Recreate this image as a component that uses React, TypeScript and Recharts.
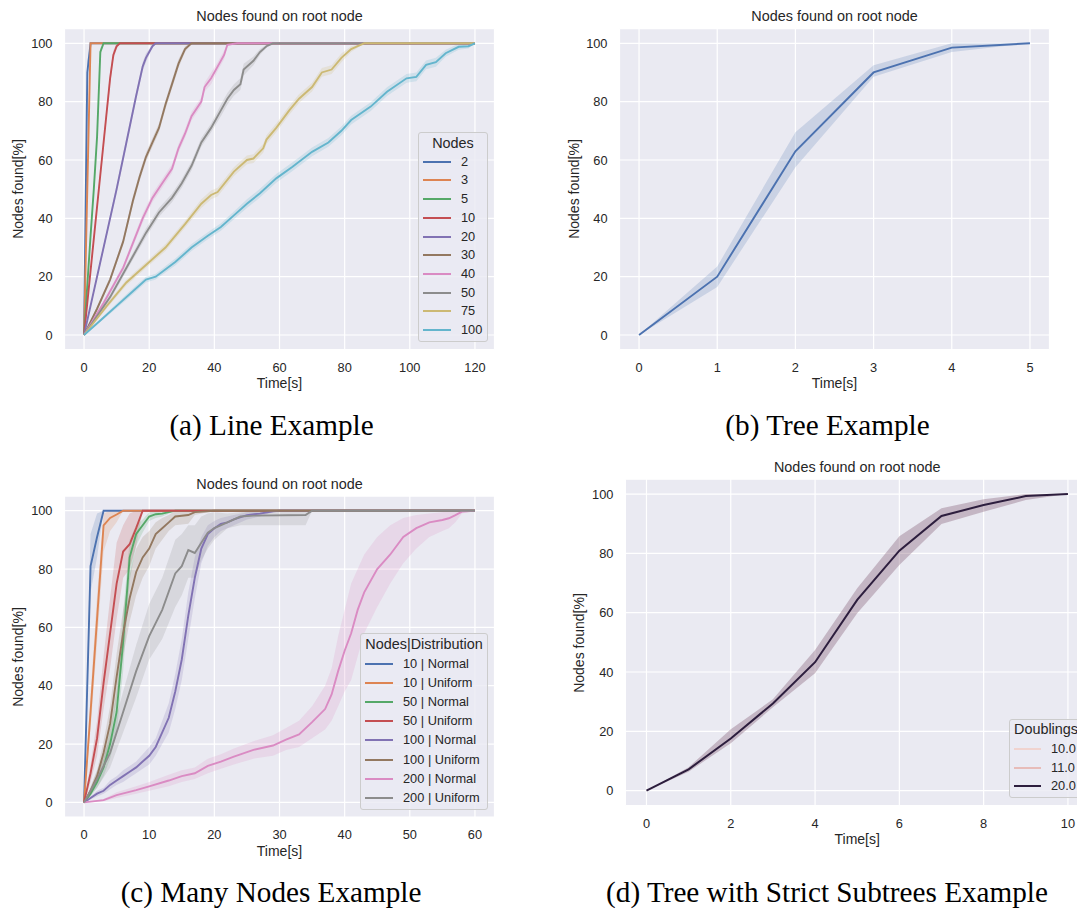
import React from "react";
import { ComposedChart, Line, Area, XAxis, YAxis, CartesianGrid } from "recharts";

// [time, mean found %, ci low, ci high]
type Pt = [number, number, number, number];

const yTicks = [0, 20, 40, 60, 80, 100];

// (a) line example
const a2: Pt[] = [[0, 0, 0, 0], [1, 90, 85, 94], [2, 100, 100, 100], [120, 100, 100, 100]];
const a3: Pt[] = [[0, 0, 0, 0], [1, 50, 48, 52], [2, 100, 100, 100], [120, 100, 100, 100]];
const a5: Pt[] = [[0, 0, 0, 0], [1, 17, 16, 18], [2, 34, 32.5, 35.5], [3, 50, 48, 52], [4, 68, 65.5, 70.5], [5, 97, 95.5, 98.5], [6, 100, 100, 100], [120, 100, 100, 100]];
const a10: Pt[] = [[0, 0, 0, 0], [2, 22, 21, 23], [4, 44, 42.5, 45.5], [6, 66, 64, 68], [8, 88, 86, 90], [9, 96, 94.5, 97.5], [10, 99, 98, 100], [11, 100, 100, 100], [120, 100, 100, 100]];
const a20: Pt[] = [[0, 0, 0, 0], [5, 25, 24, 26], [10, 50, 48.5, 51.5], [13, 66, 64.5, 67.5], [16, 82, 80.5, 83.5], [18, 92, 90.5, 93.5], [19, 95, 93.5, 96.5], [20, 97, 96, 98], [21, 99, 98.5, 99.5], [22, 100, 100, 100], [120, 100, 100, 100]];
const a30: Pt[] = [[0, 0, 0, 0], [4, 9, 8.2, 9.8], [8, 19, 18, 20], [12, 32, 30.8, 33.2], [15, 46, 44.5, 47.5], [17, 54, 52.5, 55.5], [19, 61, 59.5, 62.5], [21, 66, 64.5, 67.5], [23, 71, 69.5, 72.5], [25, 79, 77.5, 80.5], [27, 86, 84.5, 87.5], [29, 93, 91.5, 94.5], [31, 98, 97, 99], [33, 100, 100, 100], [120, 100, 100, 100]];
const a40: Pt[] = [[0, 0, 0, 0], [6, 11, 10.2, 11.8], [12, 23, 22, 24], [18, 40, 38.5, 41.5], [21, 47, 45.5, 48.5], [24, 52, 50.5, 53.5], [27, 57, 55.5, 58.5], [29, 64, 62.5, 65.5], [31, 69, 67.5, 70.5], [33, 75, 73.5, 76.5], [36, 80, 78.5, 81.5], [37, 85, 83.5, 86.5], [39, 88, 86, 90], [41, 92, 90.5, 93.5], [43, 96, 94.5, 97.5], [44, 99.5, 99, 100], [47, 100, 100, 100], [120, 100, 100, 100]];
const a50: Pt[] = [[0, 0, 0, 0], [8, 13, 12, 14], [15, 27, 25.8, 28.2], [19, 35, 33.5, 36.5], [23, 42, 40.5, 43.5], [27, 47, 45.5, 48.5], [30, 52, 50.5, 53.5], [33, 58, 56.5, 59.5], [36, 66, 64.5, 67.5], [39, 71, 69.5, 72.5], [42, 77, 75, 79], [44, 81, 79, 83], [46, 84, 82, 86], [48, 86, 84, 88], [49, 91, 89, 93], [52, 94, 92.5, 95.5], [54, 97, 96, 98], [56, 99, 98.5, 99.5], [58, 100, 100, 100], [120, 100, 100, 100]];
const a75: Pt[] = [[0, 0, 0, 0], [7, 10, 9.2, 10.8], [13, 18, 17, 19], [19, 24, 23, 25], [25, 30, 28.8, 31.2], [31, 38, 36.8, 39.2], [36, 45, 43.5, 46.5], [39, 48, 46.5, 49.5], [41, 49, 47.5, 50.5], [46, 56, 54.5, 57.5], [50, 60, 58.5, 61.5], [52, 60.5, 59, 62], [55, 64, 62.5, 65.5], [56, 67, 65.5, 68.5], [59, 71, 69.5, 72.5], [63, 77, 75.5, 78.5], [66, 81, 79.5, 82.5], [70, 85, 83.5, 86.5], [73, 90, 88.5, 91.5], [76, 91, 89.5, 92.5], [79, 95, 93.5, 96.5], [82, 98, 97, 99], [84, 99, 98.5, 99.5], [86, 100, 100, 100], [120, 100, 100, 100]];
const a100: Pt[] = [[0, 0, 0, 0], [5, 5, 4.5, 5.5], [10, 10, 9.2, 10.8], [15, 15, 14, 16], [19, 19, 18, 20], [22, 20, 19, 21], [28, 25, 23.8, 26.2], [33, 30, 28.8, 31.2], [38, 34, 32.8, 35.2], [42, 37, 35.7, 38.3], [46, 41, 39.7, 42.3], [50, 45, 43.5, 46.5], [54, 48.6, 47.1, 50.1], [59, 53.7, 52.2, 55.2], [64, 57.7, 56.2, 59.2], [70, 62.8, 61.3, 64.3], [75, 66, 64.5, 67.5], [79, 70, 68.5, 71.5], [82, 73.7, 72.2, 75.2], [88, 78.3, 76.8, 79.8], [93, 83.4, 81.9, 84.9], [99, 88, 86.5, 89.5], [102, 88.5, 87, 90], [105, 92.6, 91.1, 94.1], [108, 93.5, 92, 95], [111, 96.6, 95.4, 97.8], [115, 98.8, 97.8, 99.8], [118, 99, 98.2, 99.8], [120, 100, 100, 100]];

// (b) tree example
const bTree: Pt[] = [[0, 0, 0, 0], [1, 20, 16.5, 23.5], [2, 63, 57.5, 69.5], [3, 90, 88.5, 92.5], [4, 98.5, 97, 100], [5, 100, 100, 100]];

// (c) many nodes example
const c10N: Pt[] = [[0, 0, 0, 0], [1, 81, 72, 92], [2, 91, 84, 99], [3, 100, 100, 100], [60, 100, 100, 100]];
const c10U: Pt[] = [[0, 0, 0, 0], [1, 31, 25, 37], [2, 63, 55, 71], [3, 95, 86, 99], [4, 97.5, 93, 100], [5, 98.7, 96, 100], [6, 100, 100, 100], [60, 100, 100, 100]];
const c50N: Pt[] = [[0, 0, 0, 0], [1, 3, 2, 4], [2, 7, 5, 9], [3, 12, 9, 15], [4, 20, 15, 25], [5, 31, 24, 38], [6, 55, 45, 65], [7, 84, 76, 90], [8, 92, 88, 95], [9, 95, 92.5, 97], [10, 98, 96.5, 99.5], [11, 98.8, 97.5, 100], [12, 99, 98, 100], [14, 100, 100, 100], [60, 100, 100, 100]];
const c50U: Pt[] = [[0, 0, 0, 0], [1, 10, 7, 13], [2, 22, 16, 28], [3, 41, 32, 50], [4, 58, 46, 70], [5, 75, 63, 89], [6, 86, 77, 95], [7, 88.5, 80, 99], [8, 94, 88, 100], [9, 100, 100, 100], [60, 100, 100, 100]];
const c100N: Pt[] = [[0, 0, 0, 0], [1, 1.5, 1, 2], [2, 3, 2, 4], [3, 4, 3, 5], [4, 6, 4.5, 7.5], [5, 7.5, 6, 9], [6, 9, 7, 11], [7, 10.5, 8.5, 12.5], [8, 12, 10, 14], [9, 14, 11.5, 16.5], [10, 16, 13, 19], [11, 19, 16, 22], [12, 24, 20, 28], [13, 29, 24, 34], [14, 38, 32, 44], [15, 49, 42, 56], [16, 64, 56, 72], [17, 77, 70, 84], [18, 87, 82, 91], [19, 92, 88, 95], [20, 94, 91, 96.5], [21, 95.5, 93, 97.5], [22, 96, 94, 98], [23, 97, 95, 98.5], [25, 98.5, 97, 99.5], [27, 99, 98, 100], [29, 99.8, 99.5, 100], [30, 100, 100, 100], [60, 100, 100, 100]];
const c100U: Pt[] = [[0, 0, 0, 0], [1, 4, 3, 5], [2, 9, 7, 11], [3, 17, 13, 21], [4, 27, 21, 33], [5, 43, 35, 51], [6, 58, 50, 66], [7, 70, 62, 78], [8, 79, 71, 87], [9, 84, 77, 91], [10, 87, 81, 93], [11, 92, 87, 96], [12, 94, 90, 97.5], [13, 96, 93, 98.5], [14, 98, 95, 100], [16, 98.5, 95.5, 100], [17, 99.5, 98.5, 100], [20, 100, 100, 100], [60, 100, 100, 100]];
const c200N: Pt[] = [[0, 0, 0, 0], [3, 0.8, 0.4, 1.2], [5, 2.5, 1.5, 3.5], [8, 4.2, 3, 5.5], [10, 5.5, 4, 7], [13, 7.5, 5.5, 9.5], [15, 9, 7, 11], [17, 10, 8, 12], [19, 12.5, 10, 15], [21, 14, 11.5, 16.5], [23, 15.7, 13, 18.5], [26, 18, 15, 21], [29, 19.5, 16, 23], [31, 21.5, 18, 25.5], [33, 23.3, 19, 28], [35, 27.5, 22, 33], [37, 32, 25, 40], [38, 37, 28, 46], [39, 45, 33, 57], [40, 52, 38, 66], [41, 58, 42, 75], [42, 66, 50, 80], [43, 72, 58, 85], [45, 80, 67, 91], [47, 85, 75, 95], [49, 91, 82, 97.5], [51, 94, 87, 98.5], [53, 96, 91, 99], [55, 96.8, 93, 99.5], [56, 97.4, 94, 100], [57, 98.5, 96, 100], [58, 99.7, 99, 100], [60, 100, 100, 100]];
const c200U: Pt[] = [[0, 0, 0, 0], [2, 8, 5, 11], [4, 17, 12, 22], [6, 31, 24, 38], [8, 45, 36, 54], [10, 57, 49, 68], [12, 66, 56, 77], [14, 78.5, 67, 90], [15, 81, 71, 92], [16, 86.5, 77, 95], [17, 85.5, 77, 95], [18, 89, 83, 98], [19, 92.5, 87, 99], [20, 94, 90, 99.5], [22, 96, 94, 99], [24, 98, 95, 99.5], [26, 98.3, 95, 100], [34, 98.5, 95, 100], [35, 100, 100, 100], [60, 100, 100, 100]];

// (d) tree with strict subtrees
const dTree: Pt[] = [[0, 0, 0, 0], [1, 7.2, 6.4, 7.9], [2, 17.6, 16, 20.7], [3, 29.4, 28.1, 30.8], [4, 43.3, 39.6, 47.4], [5, 64.3, 59.8, 68.2], [6, 80.9, 76.1, 85.8], [7, 92.6, 89.9, 95.2], [8, 96.3, 94, 98.2], [9, 99.3, 98, 100], [10, 100, 100, 100]];

const deep = ["#4C72B0", "#DD8452", "#55A868", "#C44E52", "#8172B3", "#937860", "#DA8BC3", "#8C8C8C", "#CCB974", "#64B5CD"];

const aNames = ["2", "3", "5", "10", "20", "30", "40", "50", "75", "100"];
const aData = [a2, a3, a5, a10, a20, a30, a40, a50, a75, a100];
const cNames = ["10 | Normal", "10 | Uniform", "50 | Normal", "50 | Uniform", "100 | Normal", "100 | Uniform", "200 | Normal", "200 | Uniform"];
const cData = [c10N, c10U, c50N, c50U, c100N, c100U, c200N, c200U];
const dNames = ["10.0", "11.0", "20.0"];
const dColors = ["#F0D3CF", "#E7BCB9", "#2D1E3E"];

interface Series {
  name: string;
  color: string;
  pts: Pt[];
  width?: number;
  band?: string;
  bandOpacity?: number;
}

interface PanelCfg {
  left: number;
  top: number;
  width: number;
  height: number;
  plot: { left: number; top: number; right: number; bottom: number };
  xDomain: [number, number];
  xTicks: number[];
  series: Series[];
}

const TEXT = "#262626";

function rows(pts: Pt[]) {
  return pts.map(([t, v, lo, hi]) => ({ t, v, band: [lo, hi] }));
}

function Panel({ cfg }: { cfg: PanelCfg }) {
  const { left, top, width, height, plot, xDomain, xTicks, series } = cfg;
  const tick = { fontSize: 12.8, fill: TEXT };
  return (
    <div style={{ position: "absolute", left, top }}>
      <ComposedChart
        width={width}
        height={height}
        margin={{ top: plot.top, right: width - plot.right, bottom: 0, left: 0 }}
      >
        <CartesianGrid fill="#EAEAF2" stroke="#FFFFFF" strokeWidth={1.2} />
        <XAxis
          type="number"
          dataKey="t"
          domain={xDomain}
          ticks={xTicks}
          interval={0}
          allowDataOverflow
          axisLine={false}
          tickLine={false}
          tickSize={0}
          tickMargin={13}
          height={height - plot.bottom}
          tick={tick}
        />
        <YAxis
          type="number"
          domain={[-5, 105]}
          ticks={yTicks}
          interval={0}
          allowDataOverflow
          axisLine={false}
          tickLine={false}
          tickSize={0}
          tickMargin={12}
          width={plot.left}
          tick={tick}
        />
        {series.map((s) => (
          <Area
            key={"band-" + s.name}
            data={rows(s.pts)}
            dataKey="band"
            type="linear"
            stroke="none"
            fill={s.band ?? s.color}
            fillOpacity={s.bandOpacity ?? 0.2}
            isAnimationActive={false}
          />
        ))}
        {series.map((s) => (
          <Line
            key={"line-" + s.name}
            data={rows(s.pts)}
            dataKey="v"
            type="linear"
            stroke={s.color}
            strokeWidth={s.width ?? 1.9}
            dot={false}
            activeDot={false}
            isAnimationActive={false}
          />
        ))}
      </ComposedChart>
    </div>
  );
}

function Txt({ x, y, size, children, rotate, font, color }: { x: number; y: number; size: number; children: React.ReactNode; rotate?: boolean; font?: string; color?: string }) {
  return (
    <div
      style={{
        position: "absolute",
        left: x,
        top: y,
        transform: `translate(-50%, -50%)${rotate ? " rotate(-90deg)" : ""}`,
        fontSize: size,
        lineHeight: 1,
        whiteSpace: "nowrap",
        color: color ?? TEXT,
        fontFamily: font,
      }}
    >
      {children}
    </div>
  );
}

interface LegendCfg {
  box: { left: number; top: number; width: number; height: number };
  title: string;
  titleX: number;
  titleY: number;
  titleAlign: "center" | "left";
  names: string[];
  colors: string[];
  firstY: number;
  step: number;
  handleX: number;
  handleW: number;
  labelX: number;
}

function LegendBox({ cfg }: { cfg: LegendCfg }) {
  const { box, title, titleX, titleY, titleAlign, names, colors, firstY, step, handleX, handleW, labelX } = cfg;
  return (
    <>
      <div
        style={{
          position: "absolute",
          ...box,
          boxSizing: "border-box",
          background: "rgba(234,234,242,0.8)",
          border: "1px solid #CCCCCC",
          borderRadius: 3,
        }}
      />
      <div
        style={{
          position: "absolute",
          left: titleX,
          top: titleY,
          transform: titleAlign === "center" ? "translate(-50%, -50%)" : "translateY(-50%)",
          fontSize: 14.4,
          lineHeight: 1,
          whiteSpace: "nowrap",
          color: TEXT,
        }}
      >
        {title}
      </div>
      {names.map((n, i) => (
        <React.Fragment key={n}>
          <div
            style={{
              position: "absolute",
              left: Math.round(handleX),
              top: Math.round(firstY + i * step - 1),
              width: handleW,
              height: 2,
              background: colors[i],
            }}
          />
          <div
            style={{
              position: "absolute",
              left: labelX,
              top: firstY + i * step,
              transform: "translateY(-50%)",
              fontSize: 12.8,
              lineHeight: 1,
              whiteSpace: "nowrap",
              color: TEXT,
            }}
          >
            {n}
          </div>
        </React.Fragment>
      ))}
    </>
  );
}

const panelA: PanelCfg = {
  left: 0,
  top: 0,
  width: 540,
  height: 400,
  plot: { left: 64.5, top: 28.7, right: 494.5, bottom: 349.6 },
  xDomain: [-6, 126],
  xTicks: [0, 20, 40, 60, 80, 100, 120],
  series: aNames.map((name, i) => ({ name, color: deep[i], pts: aData[i] })),
};

const panelB: PanelCfg = {
  left: 540,
  top: 0,
  width: 537,
  height: 400,
  plot: { left: 79.5, top: 28.7, right: 509.5, bottom: 349.6 },
  xDomain: [-0.25, 5.25],
  xTicks: [0, 1, 2, 3, 4, 5],
  series: [{ name: "tree", color: deep[0], pts: bTree }],
};

const panelC: PanelCfg = {
  left: 0,
  top: 460,
  width: 540,
  height: 400,
  plot: { left: 64.5, top: 36.1, right: 494.5, bottom: 357 },
  xDomain: [-3, 63],
  xTicks: [0, 10, 20, 30, 40, 50, 60],
  series: cNames.map((name, i) => ({ name, color: deep[i], pts: cData[i] })),
};

const panelD: PanelCfg = {
  left: 540,
  top: 460,
  width: 560,
  height: 380,
  plot: { left: 85.4, top: 19.2, right: 549, bottom: 345.5 },
  xDomain: [-0.5, 10.5],
  xTicks: [0, 2, 4, 6, 8, 10],
  series: [{ name: "20.0", color: dColors[2], pts: dTree, width: 2, band: "#7D5570", bandOpacity: 0.35 }],
};

const legendA: LegendCfg = {
  box: { left: 418, top: 132, width: 70, height: 210 },
  title: "Nodes",
  titleX: 453,
  titleY: 142.5,
  titleAlign: "center",
  names: aNames,
  colors: deep,
  firstY: 161.7,
  step: 18.7,
  handleX: 423,
  handleW: 28,
  labelX: 461,
};

const legendC: LegendCfg = {
  box: { left: 360, top: 633, width: 128, height: 177 },
  title: "Nodes|Distribution",
  titleX: 424,
  titleY: 644.3,
  titleAlign: "center",
  names: cNames,
  colors: deep,
  firstY: 664,
  step: 19.1,
  handleX: 365,
  handleW: 28,
  labelX: 403,
};

const legendD: LegendCfg = {
  box: { left: 1008.5, top: 719.3, width: 110, height: 79 },
  title: "Doublings",
  titleX: 1014,
  titleY: 729.3,
  titleAlign: "left",
  names: dNames,
  colors: dColors,
  firstY: 749,
  step: 18.7,
  handleX: 1014,
  handleW: 27,
  labelX: 1051,
};

const CAPTION_FONT = '"Liberation Serif", "Times New Roman", serif';

export default function App() {
  return (
    <div
      style={{
        position: "absolute",
        left: 0,
        top: 0,
        width: 1077,
        height: 909,
        overflow: "hidden",
        background: "#FFFFFF",
        fontFamily: '"Liberation Sans", Arial, sans-serif',
      }}
    >
      <Panel cfg={panelA} />
      <Panel cfg={panelB} />
      <Panel cfg={panelC} />
      <Panel cfg={panelD} />

      <Txt x={279.5} y={16} size={14.4}>Nodes found on root node</Txt>
      <Txt x={834.5} y={16} size={14.4}>Nodes found on root node</Txt>
      <Txt x={279.5} y={484} size={14.4}>Nodes found on root node</Txt>
      <Txt x={857.2} y={467.3} size={14.4}>Nodes found on root node</Txt>

      <Txt x={279.5} y={383.3} size={14}>Time[s]</Txt>
      <Txt x={834.5} y={383.3} size={14}>Time[s]</Txt>
      <Txt x={279.5} y={851} size={14}>Time[s]</Txt>
      <Txt x={857.2} y={839.3} size={14}>Time[s]</Txt>

      <Txt x={18.3} y={189} size={14} rotate>Nodes found[%]</Txt>
      <Txt x={574.2} y={189} size={14} rotate>Nodes found[%]</Txt>
      <Txt x={18.3} y={656.7} size={14} rotate>Nodes found[%]</Txt>
      <Txt x={579.4} y={642.5} size={14} rotate>Nodes found[%]</Txt>

      <LegendBox cfg={legendA} />
      <LegendBox cfg={legendC} />
      <LegendBox cfg={legendD} />

      <Txt x={271.5} y={426} size={29.2} font={CAPTION_FONT} color="#000">(a) Line Example</Txt>
      <Txt x={827.5} y={426} size={29.2} font={CAPTION_FONT} color="#000">(b) Tree Example</Txt>
      <Txt x={271} y={893} size={29.2} font={CAPTION_FONT} color="#000">(c) Many Nodes Example</Txt>
      <Txt x={827} y={893} size={29.2} font={CAPTION_FONT} color="#000">(d) Tree with Strict Subtrees Example</Txt>
    </div>
  );
}
